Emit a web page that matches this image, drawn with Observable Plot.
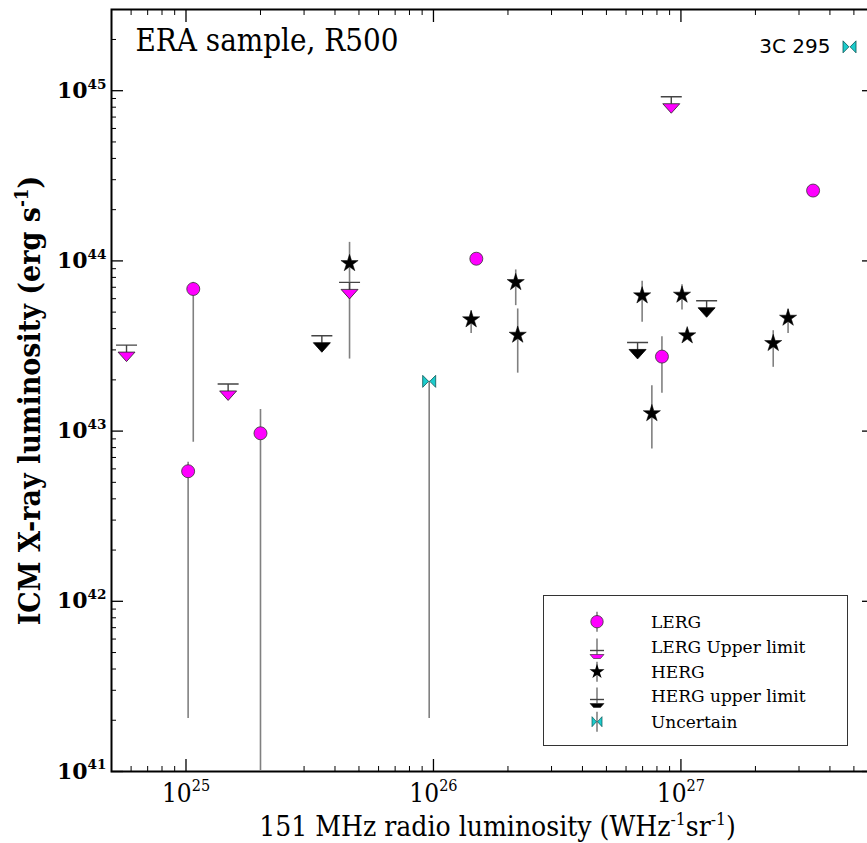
<!DOCTYPE html>
<html><head><meta charset="utf-8">
<script src="https://cdn.jsdelivr.net/npm/d3@7"></script>
<script src="https://cdn.jsdelivr.net/npm/@observablehq/plot@0.6"></script>
<style>
html,body{margin:0;padding:0;background:#fff;overflow:hidden}
#chart svg{max-width:none!important}
.cond{font-stretch:condensed}
</style></head><body><div id="chart"></div>
<script>
// ---------- data ----------
// LERG (magenta circles)
const lergX  = [1.07e25, 1.02e25, 2.0e25, 1.49e26, 8.38e26, 3.42e27];
const lergY  = [6.84e43, 5.81e42, 9.71e42, 1.03e44, 2.74e43, 2.59e44];
const lergLo = [8.6e42, 2.05e41, 1e40, null, 1.67e43, null];
const lergHi = [7.48e43, 6.56e42, 1.34e43, null, 3.59e43, null];
// LERG upper limits (magenta down triangles)
const lergUlX  = [5.75e24, 1.48e25, 4.58e25, 9.14e26];
const lergUlY  = [2.74e43, 1.62e43, 6.40e43, 7.89e44];
const lergUlLo = [null, null, 2.65e43, null];
const lergUlHi = [null, null, 7.48e43, null];
// HERG (black stars)
const hergX  = [4.58e25, 1.42e26, 2.15e26, 2.19e26, 6.97e26, 7.63e26, 1.01e27, 1.06e27, 2.36e27, 2.71e27];
const hergY  = [9.67e43, 4.52e43, 7.48e43, 3.67e43, 6.25e43, 1.27e43, 6.31e43, 3.64e43, 3.28e43, 4.62e43];
const hergLo = [7.48e43, 3.75e43, 5.46e43, 2.19e43, 4.36e43, 7.86e42, 5.15e43, null, 2.37e43, 3.75e43];
const hergHi = [1.285e44, 5.10e43, 8.85e43, 5.22e43, 7.59e43, 1.85e43, 7.25e43, null, 3.89e43, 5.22e43];
// HERG upper limits (black down triangles)
const hergUlX = [3.54e25, 6.68e26, 1.27e27];
const hergUlY = [3.11e43, 2.84e43, 4.99e43];
// Uncertain (cyan bowties)
const uncX  = [9.61e25, 4.8e27];
const uncY  = [1.96e43, 1.81e45];
const uncLo = [2.05e41, null];
const uncHi = [1.96e43, null];
const uncLabel = ["", "3C 295"];

const xDomain = [5e24, 6e27];
const yDomain = [1e41, 3e45];
const xMajor = [1e25, 1e26, 1e27];
const yMajor = [1e41, 1e42, 1e43, 1e44, 1e45];
const legendLabels = ["LERG", "LERG Upper limit", "HERG", "HERG upper limit", "Uncertain"];
const titleText = "ERA sample, R500";
const xTitle = "151 MHz radio luminosity (WHz^{-1}sr^{-1})";
const yTitle = "ICM X-ray luminosity (erg s^{-1})";

// ---------- helpers ----------
const rows = (xs, ys, lo, hi, extra) => xs.map((x, i) => ({x, y: ys[i], lo: lo ? lo[i] : null, hi: hi ? hi[i] : null, label: extra ? extra[i] : ""}));
const lerg = rows(lergX, lergY, lergLo, lergHi);
const lergUl = rows(lergUlX, lergUlY, lergUlLo, lergUlHi);
const herg = rows(hergX, hergY, hergLo, hergHi);
const hergUl = rows(hergUlX, hergUlY);
const unc = rows(uncX, uncY, uncLo, uncHi, uncLabel);
const errs = [...lerg, ...lergUl, ...herg, ...unc].filter(d => d.lo != null);

function minorTicks([lo, hi]) {
  const out = [];
  for (let e = Math.floor(Math.log10(lo)); e <= Math.ceil(Math.log10(hi)); e++)
    for (let m = 2; m <= 9; m++) { const v = m * Math.pow(10, e); if (v > lo && v < hi) out.push(v); }
  return out;
}
const xMinor = minorTicks(xDomain), yMinor = minorTicks(yDomain);
const pow10 = d => `10^{${Math.round(Math.log10(d))}}`;

// custom symbols
const triDown = {draw(c) { c.moveTo(-8.5, -4.5); c.lineTo(8.5, -4.5); c.lineTo(0, 5); c.closePath(); }};
const capSym = {draw(c) { c.moveTo(-10.5, -11.5); c.lineTo(10.5, -11.5); c.moveTo(0, -11.5); c.lineTo(0, -4.5); }};
const bowtie = {draw(c) { c.moveTo(-6.5, -6); c.lineTo(-0.6, 0); c.lineTo(-6.5, 6); c.closePath(); c.moveTo(6.5, -6); c.lineTo(0.6, 0); c.lineTo(6.5, 6); c.closePath(); }};

const MAG = "#ff00ff", CYAN = "#1ccccc", ERR = "#808080";
const serifC = "'DejaVu Serif', serif";

const plot = Plot.plot({
  width: 874, height: 843,
  marginLeft: 111, marginRight: 1, marginTop: 9, marginBottom: 72,
  x: {type: "log", domain: xDomain},
  y: {type: "log", domain: yDomain},
  style: {fontFamily: serifC, background: "white", color: "black", maxWidth: "none"},
  marks: [
    // ticks (inward, all four sides)
    Plot.axisX({anchor: "bottom", ticks: xMajor, tickSize: -12, fill: "none", label: null, strokeWidth: 1.3}),
    Plot.axisX({anchor: "bottom", ticks: xMinor, tickSize: -5, fill: "none", label: null}),
    Plot.axisX({anchor: "top", ticks: xMajor, tickSize: -12, fill: "none", label: null, strokeWidth: 1.3}),
    Plot.axisX({anchor: "top", ticks: xMinor, tickSize: -5, fill: "none", label: null}),
    Plot.axisY({anchor: "left", ticks: yMajor, tickSize: -12, fill: "none", label: null, strokeWidth: 1.3}),
    Plot.axisY({anchor: "left", ticks: yMinor, tickSize: -5, fill: "none", label: null}),
    Plot.axisY({anchor: "right", ticks: yMajor, tickSize: -12, fill: "none", label: null, strokeWidth: 1.3}),
    Plot.axisY({anchor: "right", ticks: yMinor, tickSize: -5, fill: "none", label: null}),
    // tick labels
    Plot.axisX({anchor: "bottom", ticks: xMajor, tickSize: 0, tickPadding: 12, tickFormat: pow10, fontSize: 26, label: null}),
    Plot.axisY({anchor: "left", ticks: yMajor, tickSize: 0, tickPadding: 5, tickFormat: pow10, fontSize: 22, fontWeight: "bold", label: null}),
    Plot.frame({stroke: "black", strokeWidth: 2}),
    // error bars
    Plot.ruleX(errs, {x: "x", y1: "lo", y2: "hi", stroke: ERR, strokeWidth: 1.6, clip: true}),
    // upper-limit caps
    Plot.dot([...lergUl, ...hergUl], {x: "x", y: "y", symbol: capSym, stroke: "#444", strokeWidth: 1.4, fill: "none"}),
    // markers
    Plot.dot(lerg, {x: "x", y: "y", symbol: "circle", r: 6.5, fill: MAG, stroke: "#333", strokeWidth: 0.8}),
    Plot.dot(lergUl, {x: "x", y: "y", symbol: triDown, fill: MAG, stroke: "#222", strokeWidth: 0.8}),
    Plot.dot(herg, {x: "x", y: "y", symbol: "star", r: 5.4, fill: "black", stroke: "black", strokeWidth: 0.5}),
    Plot.dot(hergUl, {x: "x", y: "y", symbol: triDown, fill: "black", stroke: "black", strokeWidth: 0.8}),
    Plot.dot(unc, {x: "x", y: "y", symbol: bowtie, fill: CYAN, stroke: "#0a5555", strokeWidth: 0.8}),
    Plot.text(unc.filter(d => d.label), {x: "x", y: "y", text: "label", textAnchor: "end", dx: -19, fontFamily: "'DejaVu Sans', sans-serif", fontSize: 20}),
    // titles
    Plot.text([titleText], {frameAnchor: "top-left", dx: 24, dy: 19, textAnchor: "start", lineAnchor: "top", fontSize: 31}),
    Plot.text([xTitle], {frameAnchor: "bottom", textAnchor: "middle", dx: 5, dy: 45, lineAnchor: "top", fontSize: 28}),
    Plot.text([yTitle], {frameAnchor: "left", textAnchor: "middle", rotate: -90, dx: -81, dy: 10, lineAnchor: "middle", fontSize: 30, fontWeight: "bold"})
  ]
});
document.getElementById("chart").appendChild(plot);

// superscripts as tspans
const NS = "http://www.w3.org/2000/svg";
function supify(el) {
  const s = el.textContent;
  if (!s.includes("^{")) return;
  const fs = parseFloat(getComputedStyle(el).fontSize);
  const shift = fs * 0.42;
  el.textContent = "";
  let raised = false;
  for (const p of s.split(/(\^\{[^}]*\})/)) {
    if (!p) continue;
    const ts = document.createElementNS(NS, "tspan");
    if (p.startsWith("^{")) {
      ts.textContent = p.slice(2, -1);
      ts.setAttribute("font-size", (fs * 0.62).toFixed(1));
      if (!raised) ts.setAttribute("dy", (-shift).toFixed(1));
      raised = true;
    } else {
      ts.textContent = p;
      if (raised) ts.setAttribute("dy", shift.toFixed(1));
      raised = false;
    }
    el.appendChild(ts);
  }
}
plot.querySelectorAll("text").forEach(t => {
  const s = t.textContent;
  const bold = ["700", "bold"].includes(getComputedStyle(t).fontWeight);
  if (s === titleText || s === xTitle || s === yTitle || (s.startsWith("10^{") && !bold)) t.classList.add("cond");
  supify(t);
});

// legend
const svg = d3.select(plot);
const lg = svg.append("g").attr("font-family", serifC).attr("font-size", 17).attr("text-anchor", "start");
lg.append("rect").attr("x", 543.5).attr("y", 595.5).attr("width", 304).attr("height", 150)
  .attr("fill", "white").attr("stroke", "#333").attr("stroke-width", 1);
const rowY = [621.7, 647.5, 671.7, 696.5, 721.7];
const mx = 597;
legendLabels.forEach((lab, i) => {
  const y = rowY[i];
  const g = lg.append("g").attr("transform", `translate(${mx},${y})`);
  const ul = i === 1 || i === 3;
  g.append("line").attr("x1", 0).attr("x2", 0).attr("y1", ul ? -9 : -10).attr("y2", ul ? 7 : 10)
    .attr("stroke", ERR).attr("stroke-width", 1.6);
  if (i === 0) g.append("circle").attr("r", 6.2).attr("fill", MAG).attr("stroke", "#333").attr("stroke-width", 0.8);
  if (ul) {
    g.append("line").attr("x1", -7).attr("x2", 7).attr("y1", 3).attr("y2", 3).attr("stroke", "#444").attr("stroke-width", 1.4);
    g.append("path").attr("d", "M-7,7L7,7L3.5,11L-3.5,11Z").attr("fill", i === 1 ? MAG : "black").attr("stroke", "#222").attr("stroke-width", 0.6);
  }
  if (i === 2) g.append("path").attr("d", d3.symbol(d3.symbolStar, 70)()).attr("fill", "black");
  if (i === 4) g.append("path").attr("d", "M-5,-5L-0.5,0L-5,5ZM5,-5L0.5,0L5,5Z").attr("fill", CYAN).attr("stroke", "#0a5555").attr("stroke-width", 0.7);
  lg.append("text").attr("x", 651).attr("y", y).attr("dy", "0.35em").text(lab);
});
</script></body></html>
